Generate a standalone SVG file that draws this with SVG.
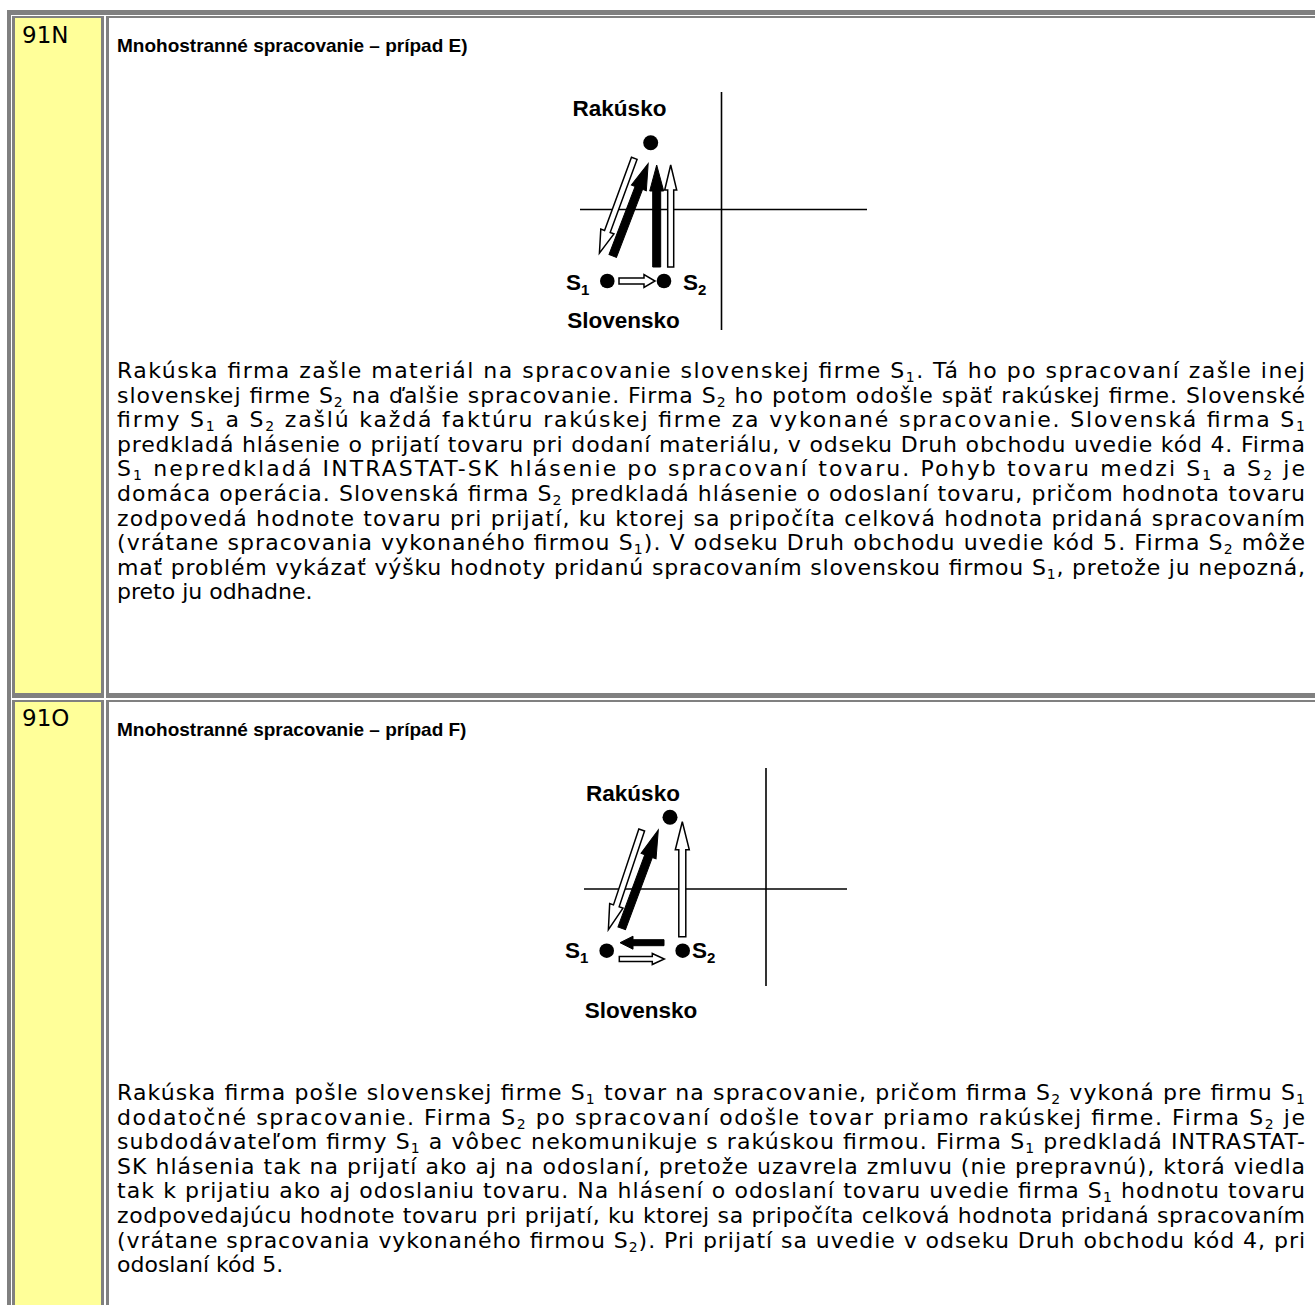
<svg xmlns="http://www.w3.org/2000/svg" width="1315" height="1305" viewBox="0 0 1315 1305">
<style>
.bd{fill:#808080}
.lab{fill:#ffff99}
.cnt{fill:#ffffff}
.num{font-family:"DejaVu Sans","Liberation Sans",sans-serif;font-size:23px;fill:#000}
.ttl{font-family:"Liberation Sans",Arial,sans-serif;font-size:19px;font-weight:bold;fill:#000}
.bt{font-family:"DejaVu Sans","Liberation Sans",sans-serif;font-size:22px;fill:#000}
.sb{font-size:14px}
.dl{font-family:"Liberation Sans",Arial,sans-serif;font-size:22.5px;font-weight:bold;fill:#000}
.dsb{font-size:15px}
.axis{stroke:#000;stroke-width:1.6;fill:none}
.dot{fill:#000}
.ah{fill:#fff;stroke:#000;stroke-width:1.5;stroke-linejoin:miter}
.af{fill:#000;stroke:#000;stroke-width:1}
</style>
<rect width="1315" height="1305" fill="#fff"/>
<rect class="bd" x="7" y="10" width="1308" height="5"/>
<rect class="bd" x="7" y="10" width="4" height="1295"/>

<g id="row-91N">
  <rect class="bd" x="12" y="16" width="92" height="682"/>
  <rect class="lab" x="15" y="18" width="86" height="675"/>
  <rect class="bd" x="106" y="16" width="1215" height="682"/>
  <rect class="cnt" x="109" y="18" width="1212" height="675"/>
  <text class="num" x="22" y="43">91N</text>
  <text class="ttl" x="117" y="52">Mnohostranné spracovanie – prípad E)</text>
</g>

<g id="row-91O">
  <rect class="bd" x="12" y="700" width="92" height="610"/>
  <rect class="lab" x="15" y="702" width="86" height="608"/>
  <rect class="bd" x="106" y="700" width="1215" height="610"/>
  <rect class="cnt" x="109" y="702" width="1212" height="608"/>
  <text class="num" x="22" y="726">91O</text>
  <text class="ttl" x="117" y="736">Mnohostranné spracovanie – prípad F)</text>
</g>

<g id="diagramE">
  <line class="axis" x1="721.5" y1="92" x2="721.5" y2="330"/>
  <line class="axis" x1="580" y1="209.5" x2="867" y2="209.5"/>
  <g id="E-rakusko"><circle class="dot" cx="650.7" cy="142.7" r="7.5"/><text class="dl" x="619.5" y="116" text-anchor="middle">Rakúsko</text></g>
  <g id="E-s1"><circle class="dot" cx="607.3" cy="281" r="7.3"/><text class="dl" x="566" y="290">S<tspan class="dsb" dy="5">1</tspan></text></g>
  <g id="E-s2"><circle class="dot" cx="664" cy="281" r="7.3"/><text class="dl" x="683" y="290">S<tspan class="dsb" dy="5">2</tspan></text></g>
  <text id="E-slovensko" class="dl" x="623.5" y="328" text-anchor="middle">Slovensko</text>
</g>
<g id="connectorsE">
  <polygon class="ah" transform="translate(634.3,158.3) rotate(110.2)" points="0,-3 78,-3 78,-7 101,0 78,7 78,3 0,3"/>
  <polygon class="af" transform="translate(612.7,256) rotate(-69)" points="0,-4 73,-4 73,-8 99,0 73,8 73,4 0,4"/>
  <polygon class="af" transform="translate(656.7,267) rotate(-90)" points="0,-4 76,-4 76,-7 102,0 76,7 76,4 0,4"/>
  <polygon class="ah" transform="translate(670.7,267) rotate(-90)" points="0,-3 77,-3 77,-6 102,0 77,6 77,3 0,3"/>
  <polygon class="ah" transform="translate(619,281)" points="0,-3 25,-3 25,-6.5 36,0 25,6.5 25,3 0,3"/>
</g>

<g id="diagramF">
  <line class="axis" x1="766" y1="768" x2="766" y2="986"/>
  <line class="axis" x1="584" y1="889" x2="847" y2="889"/>
  <g id="F-rakusko"><circle class="dot" cx="670" cy="817.3" r="7.5"/><text class="dl" x="633" y="801" text-anchor="middle">Rakúsko</text></g>
  <g id="F-s1"><circle class="dot" cx="606.7" cy="950.7" r="7.3"/><text class="dl" x="565" y="958">S<tspan class="dsb" dy="5">1</tspan></text></g>
  <g id="F-s2"><circle class="dot" cx="682.7" cy="950.7" r="7.3"/><text class="dl" x="692" y="958">S<tspan class="dsb" dy="5">2</tspan></text></g>
  <text id="F-slovensko" class="dl" x="641" y="1018" text-anchor="middle">Slovensko</text>
</g>
<g id="connectorsF">
  <polygon class="ah" transform="translate(641.7,830) rotate(108.5)" points="0,-3 80,-3 80,-7 105,0 80,7 80,3 0,3"/>
  <polygon class="af" transform="translate(621.7,928.3) rotate(-69.6)" points="0,-4 77,-4 77,-8 105,0 77,8 77,4 0,4"/>
  <polygon class="ah" transform="translate(682.3,936.7) rotate(-90)" points="0,-3.5 87,-3.5 87,-7 115,0 87,7 87,3.5 0,3.5"/>
  <polygon class="af" transform="translate(664,942.7) rotate(180)" points="0,-3 31,-3 31,-6.5 44,0 31,6.5 31,3 0,3"/>
  <polygon class="ah" transform="translate(619.3,959)" points="0,-2.5 33,-2.5 33,-5.5 45,0 33,5.5 33,2.5 0,2.5"/>
</g>

<g id="textE" class="bt">
<text x="117" y="378" textLength="1188" lengthAdjust="spacing">Rakúska firma zašle materiál na spracovanie slovenskej firme S<tspan class="sb" dy="4">1</tspan><tspan dy="-4">. Tá ho po spracovaní zašle inej</tspan></text>
<text x="117" y="402.6" textLength="1188" lengthAdjust="spacing">slovenskej firme S<tspan class="sb" dy="4">2</tspan><tspan dy="-4"> na ďalšie spracovanie. Firma S</tspan><tspan class="sb" dy="4">2</tspan><tspan dy="-4"> ho potom odošle späť rakúskej firme. Slovenské</tspan></text>
<text x="117" y="427.2" textLength="1188" lengthAdjust="spacing">firmy S<tspan class="sb" dy="4">1</tspan><tspan dy="-4"> a S</tspan><tspan class="sb" dy="4">2</tspan><tspan dy="-4"> zašlú každá faktúru rakúskej firme za vykonané spracovanie. Slovenská firma S</tspan><tspan class="sb" dy="4">1</tspan></text>
<text x="117" y="451.8" textLength="1188" lengthAdjust="spacing">predkladá hlásenie o prijatí tovaru pri dodaní materiálu, v odseku Druh obchodu uvedie kód 4. Firma</text>
<text x="117" y="476.4" textLength="1188" lengthAdjust="spacing">S<tspan class="sb" dy="4">1</tspan><tspan dy="-4"> nepredkladá INTRASTAT-SK hlásenie po spracovaní tovaru. Pohyb tovaru medzi S</tspan><tspan class="sb" dy="4">1</tspan><tspan dy="-4"> a S</tspan><tspan class="sb" dy="4">2</tspan><tspan dy="-4"> je</tspan></text>
<text x="117" y="501" textLength="1188" lengthAdjust="spacing">domáca operácia. Slovenská firma S<tspan class="sb" dy="4">2</tspan><tspan dy="-4"> predkladá hlásenie o odoslaní tovaru, pričom hodnota tovaru</tspan></text>
<text x="117" y="525.6" textLength="1188" lengthAdjust="spacing">zodpovedá hodnote tovaru pri prijatí, ku ktorej sa pripočíta celková hodnota pridaná spracovaním</text>
<text x="117" y="550.2" textLength="1188" lengthAdjust="spacing">(vrátane spracovania vykonaného firmou S<tspan class="sb" dy="4">1</tspan><tspan dy="-4">). V odseku Druh obchodu uvedie kód 5. Firma S</tspan><tspan class="sb" dy="4">2</tspan><tspan dy="-4"> môže</tspan></text>
<text x="117" y="574.8" textLength="1188" lengthAdjust="spacing">mať problém vykázať výšku hodnoty pridanú spracovaním slovenskou firmou S<tspan class="sb" dy="4">1</tspan><tspan dy="-4">, pretože ju nepozná,</tspan></text>
<text x="117" y="599.4">preto ju odhadne.</text>
</g>

<g id="textF" class="bt">
<text x="117" y="1100" textLength="1188" lengthAdjust="spacing">Rakúska firma pošle slovenskej firme S<tspan class="sb" dy="4">1</tspan><tspan dy="-4"> tovar na spracovanie, pričom firma S</tspan><tspan class="sb" dy="4">2</tspan><tspan dy="-4"> vykoná pre firmu S</tspan><tspan class="sb" dy="4">1</tspan></text>
<text x="117" y="1124.6" textLength="1188" lengthAdjust="spacing">dodatočné spracovanie. Firma S<tspan class="sb" dy="4">2</tspan><tspan dy="-4"> po spracovaní odošle tovar priamo rakúskej firme. Firma S</tspan><tspan class="sb" dy="4">2</tspan><tspan dy="-4"> je</tspan></text>
<text x="117" y="1149.2" textLength="1188" lengthAdjust="spacing">subdodávateľom firmy S<tspan class="sb" dy="4">1</tspan><tspan dy="-4"> a vôbec nekomunikuje s rakúskou firmou. Firma S</tspan><tspan class="sb" dy="4">1</tspan><tspan dy="-4"> predkladá INTRASTAT-</tspan></text>
<text x="117" y="1173.8" textLength="1188" lengthAdjust="spacing">SK hlásenia tak na prijatí ako aj na odoslaní, pretože uzavrela zmluvu (nie prepravnú), ktorá viedla</text>
<text x="117" y="1198.4" textLength="1188" lengthAdjust="spacing">tak k prijatiu ako aj odoslaniu tovaru. Na hlásení o odoslaní tovaru uvedie firma S<tspan class="sb" dy="4">1</tspan><tspan dy="-4"> hodnotu tovaru</tspan></text>
<text x="117" y="1223" textLength="1188" lengthAdjust="spacing">zodpovedajúcu hodnote tovaru pri prijatí, ku ktorej sa pripočíta celková hodnota pridaná spracovaním</text>
<text x="117" y="1247.6" textLength="1188" lengthAdjust="spacing">(vrátane spracovania vykonaného firmou S<tspan class="sb" dy="4">2</tspan><tspan dy="-4">). Pri prijatí sa uvedie v odseku Druh obchodu kód 4, pri</tspan></text>
<text x="117" y="1272.2">odoslaní kód 5.</text>
</g>
</svg>
